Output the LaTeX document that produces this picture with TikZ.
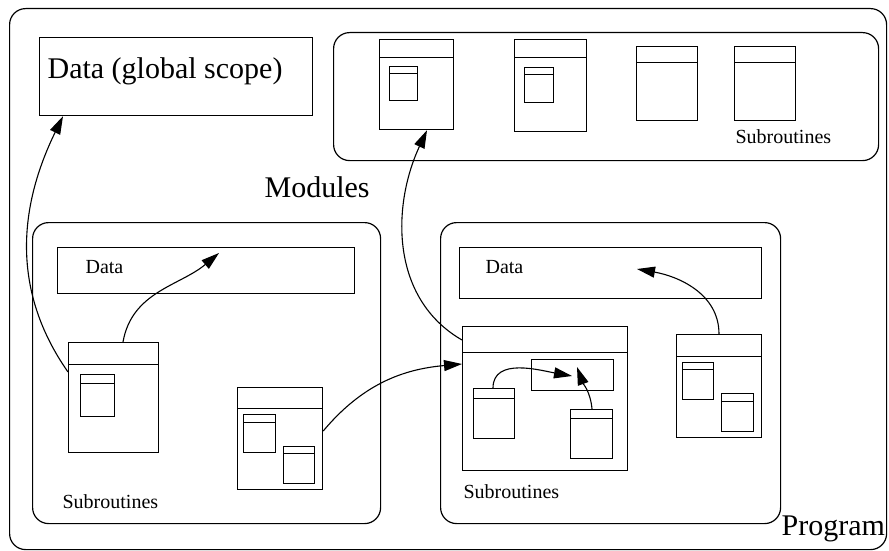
\documentclass[tikz,border=0pt]{standalone}
\usepackage{fontspec}
\setmainfont{Liberation Serif}
\usetikzlibrary{arrows.meta}

\tikzset{
  modbox/.style={draw, rounded corners=16pt, inner sep=0pt, anchor=north west},
  box/.style={draw, inner sep=0pt, anchor=north west},
  subr/.style={box, path picture={\draw[line width=1.2pt]
      ([yshift=-#1]path picture bounding box.north west) --
      ([yshift=-#1]path picture bounding box.north east);}},
  big/.style={anchor=base west, inner sep=0pt, font=\fontsize{30}{36}\selectfont},
  small/.style={anchor=base west, inner sep=0pt, font=\fontsize{20}{24}\selectfont},
  call/.style={-{Triangle[length=18pt,width=11pt]}, line width=1.1pt},
}

\begin{document}
\begin{tikzpicture}[x=1pt, y=-1pt, line width=1.2pt]
    \useasboundingbox (0,0) rectangle (889,551);
    % program
    \node[modbox, minimum width=877pt, minimum height=541pt] (prog) at (9,8) {};
    \node[box, minimum width=273pt, minimum height=78pt] (gdata) at (39,37) {};
    \node[big] (tgdata) at (47,78) {Data (global scope)};
    \node[big] (tmods) at (264,197) {Modules};
    \node[big] (tprog) at (781,535) {Program};

    % modules with subroutines only
    \node[modbox, minimum width=545pt, minimum height=128pt] (mods) at (333,32) {};
    \node[subr=18pt, minimum width=74pt, minimum height=90pt] (m1) at (379,39) {};
    \node[subr=7pt, minimum width=28pt, minimum height=34pt] (m1a) at (389,66) {};
    \node[subr=18pt, minimum width=72pt, minimum height=92pt] (m2) at (514,39) {};
    \node[subr=7pt, minimum width=29pt, minimum height=35pt] (m2a) at (524,67) {};
    \node[subr=16pt, minimum width=61pt, minimum height=74pt] (m3) at (636,46) {};
    \node[subr=16pt, minimum width=61pt, minimum height=74pt] (m4) at (734,46) {};
    \node[small] (tmsub) at (735,143) {Subroutines};

    % left module
    \node[modbox, minimum width=348pt, minimum height=301pt] (lmod) at (32,222) {};
    \node[box, minimum width=297pt, minimum height=46pt] (ldata) at (57,247) {};
    \node[small] (tldata) at (85,273) {Data};
    \node[subr=22pt, minimum width=90pt, minimum height=110pt] (lsa) at (68,342) {};
    \node[subr=9pt, minimum width=34pt, minimum height=42pt] (lsa1) at (80,374) {};
    \node[subr=21pt, minimum width=85pt, minimum height=102pt] (lsb) at (237,387) {};
    \node[subr=8pt, minimum width=32pt, minimum height=38pt] (lsb1) at (243,414) {};
    \node[subr=7pt, minimum width=31pt, minimum height=37pt] (lsb2) at (283,446) {};
    \node[small] (tlsub) at (62,508) {Subroutines};
    \coordinate (lt) at (219,253);

    % right module
    \node[modbox, minimum width=340pt, minimum height=301pt] (rmod) at (440,222) {};
    \node[box, minimum width=302pt, minimum height=51pt] (rdata) at (459,247) {};
    \node[small] (trdata) at (485,273) {Data};
    \node[subr=26pt, minimum width=165pt, minimum height=144pt] (rsc) at (462,326) {};
    \node[box, minimum width=82pt, minimum height=31pt] (rscd) at (531,359) {};
    \node[subr=10pt, minimum width=41pt, minimum height=50pt] (rsc1) at (473,388) {};
    \node[subr=9pt, minimum width=42pt, minimum height=49pt] (rsc2) at (570,409) {};
    \node[subr=22pt, minimum width=85pt, minimum height=103pt] (rse) at (676,334) {};
    \node[subr=7pt, minimum width=31pt, minimum height=37pt] (rse1) at (682,362) {};
    \node[subr=8pt, minimum width=32pt, minimum height=38pt] (rse2) at (721,393) {};
    \node[small] (trsub) at (463,498) {Subroutines};
    \coordinate (ct) at (572,376);
    \coordinate (ct2) at (577,367);
    \coordinate (et) at (637,269);

    % calls
    \draw[call] ([yshift=-30pt]lsa.north west) to[out=125, in=244]
        ([xshift=24pt]gdata.south west);
    \draw[call] ([xshift=55pt]lsa.north west) to[out=80, in=220] (lt);
    \draw[call] ([yshift=-44pt]lsb.north east) to[out=50, in=185]
        ([yshift=-38pt]rsc.north west);
    \draw[call] ([yshift=-14pt]rsc.north west) to[out=150, in=245]
        ([xshift=48pt]m1.south west);
    \draw[call] ([xshift=20pt]rsc1.north west) to[out=90, in=170] (ct);
    \draw[call] ([xshift=22pt]rsc2.north west) to[out=95, in=-70] (ct2);
    \draw[call] ([xshift=43pt]rse.north west) to[out=90, in=-10] (et);
\end{tikzpicture}
\end{document}
